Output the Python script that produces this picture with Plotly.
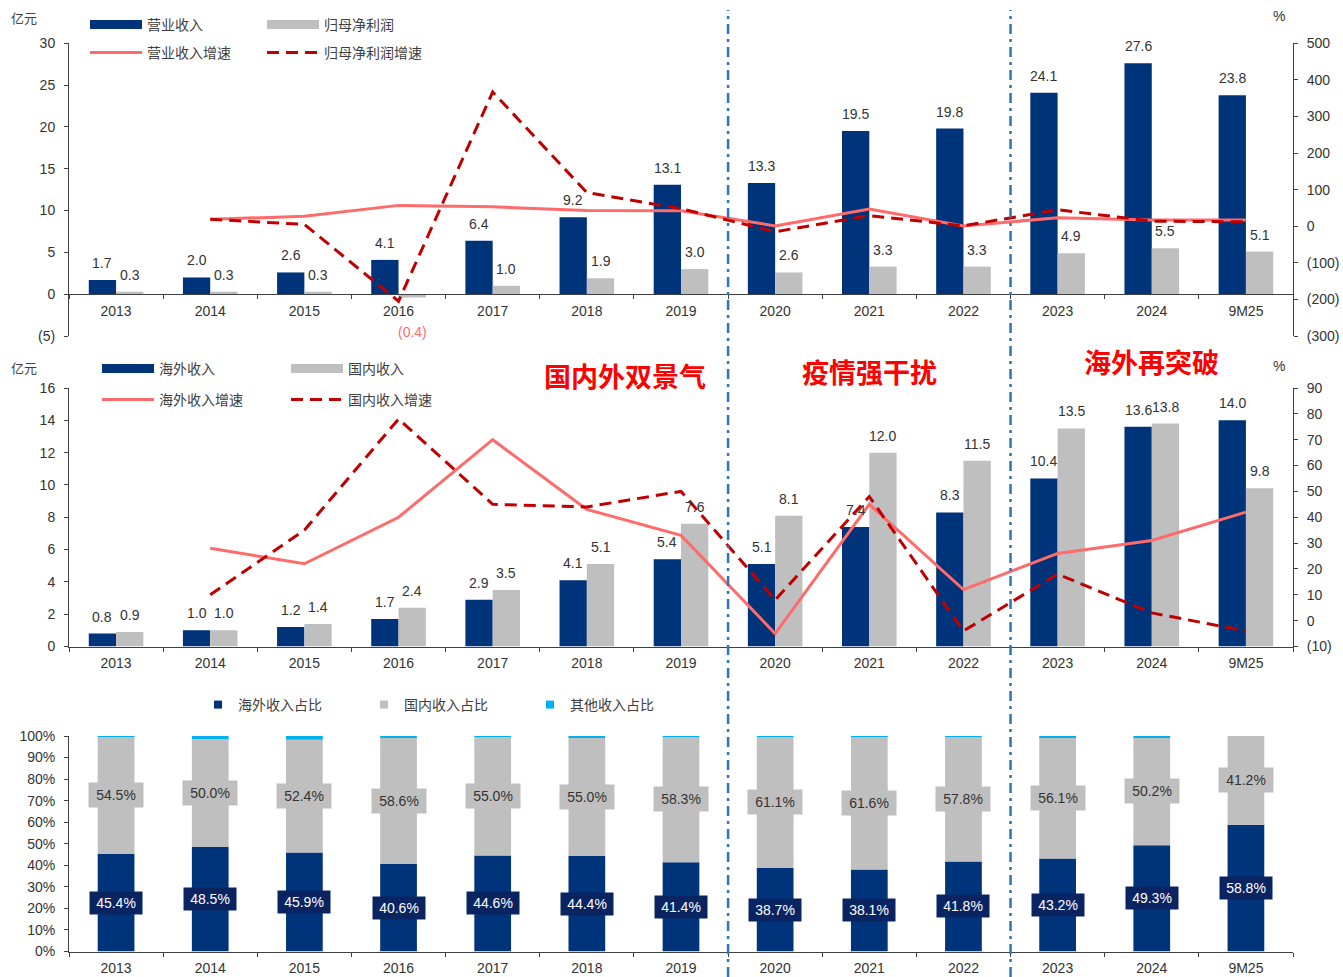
import plotly.graph_objects as go

W, H = 1343, 977

years = ["2013", "2014", "2015", "2016", "2017", "2018", "2019",
         "2020", "2021", "2022", "2023", "2024", "9M25"]

# 营业收入 / 归母净利润 (亿元) and growth (%)
revenue = [1.7, 2.0, 2.6, 4.1, 6.4, 9.2, 13.1, 13.3, 19.5, 19.8, 24.1, 27.6, 23.8]
net_profit = [0.3, 0.3, 0.3, -0.4, 1.0, 1.9, 3.0, 2.6, 3.3, 3.3, 4.9, 5.5, 5.1]
revenue_growth = [None, 19, 27, 57, 53, 43, 42, 1, 47, 1, 23, 17, 17]
profit_growth = [None, 19, 5, -205, 367, 92, 48, -15, 29, 1, 45, 14, 12]

# 海外 / 国内收入 (亿元) and growth (%)
overseas = [0.8, 1.0, 1.2, 1.7, 2.9, 4.1, 5.4, 5.1, 7.4, 8.3, 10.4, 13.6, 14.0]
domestic = [0.9, 1.0, 1.4, 2.4, 3.5, 5.1, 7.6, 8.1, 12.0, 11.5, 13.5, 13.8, 9.8]
overseas_growth = [None, 28, 22, 40, 70, 43, 33, -5, 45, 12, 26, 31, 42]
domestic_growth = [None, 10, 35, 78, 45, 44, 50, 8, 48, -4, 18, 3, -4]

# revenue mix (%)
overseas_share = [45.4, 48.5, 45.9, 40.6, 44.6, 44.4, 41.4, 38.7, 38.1, 41.8, 43.2, 49.3, 58.8]
domestic_share = [54.5, 50.0, 52.4, 58.6, 55.0, 55.0, 58.3, 61.1, 61.6, 57.8, 56.1, 50.2, 41.2]
other_share = [0.1, 1.5, 1.7, 0.8, 0.4, 0.6, 0.3, 0.2, 0.3, 0.4, 0.7, 0.5, 0.0]

top_left_ticks = [-5, 0, 5, 10, 15, 20, 25, 30]
top_right_ticks = [-300, -200, -100, 0, 100, 200, 300, 400, 500]
mid_left_ticks = [0, 2, 4, 6, 8, 10, 12, 14, 16]
mid_right_ticks = [-10, 0, 10, 20, 30, 40, 50, 60, 70, 80, 90]
share_ticks = [0, 10, 20, 30, 40, 50, 60, 70, 80, 90, 100]

phase_labels = ["国内外双景气", "疫情强干扰", "海外再突破"]
phase_pos = [5.4, 8.0, 11.0]
phase_y_px = [375, 371, 362]
phase_breaks = [6.5, 9.5]

NAVY = "#00347A"
GREY = "#BFBFBF"
SALMON = "#FF6B6B"
DARKRED = "#C00000"
CYAN = "#00B0F0"
SEP = "#2E75B6"
TXT = "#333333"
AX = "#404040"
NUM_FONT = "Liberation Sans, Arial, sans-serif"
CJK_FONT = "Noto Sans CJK SC, sans-serif"

BARGAP = 0.42
HALF = (1 - BARGAP) / 4  # centre offset of each bar inside a two-bar group


def px_x(p):
    return p / W


def px_y(p):
    return 1 - p / H


def paren(v, fmt="{:.0f}"):
    return "(" + fmt.format(-v) + ")" if v < 0 else fmt.format(v)


xdom = [px_x(69), px_x(1293)]
top_dom = [px_y(336), px_y(43.3)]
mid_dom = [px_y(646.5), px_y(388)]
bot_dom = [px_y(951.5), px_y(736)]
top_zero = top_dom[0] + (top_dom[1] - top_dom[0]) * 5 / 35

fig = go.Figure()

# ---------- top: revenue & profit ----------
fig.add_trace(go.Bar(x=years, y=revenue, marker_color=NAVY, xaxis="x", yaxis="y",
                     showlegend=False))
fig.add_trace(go.Bar(x=years, y=net_profit, marker_color=GREY, xaxis="x", yaxis="y",
                     showlegend=False))
fig.add_trace(go.Scatter(
    x=years, y=revenue_growth, mode="lines", line=dict(color=SALMON, width=3),
    xaxis="x", yaxis="y2", name="营业收入增速", legend="legend2"))
fig.add_trace(go.Scatter(
    x=years, y=profit_growth, mode="lines",
    line=dict(color=DARKRED, width=3, dash="12px,7px"),
    xaxis="x", yaxis="y2", name="归母净利润增速", legend="legend2"))
fig.add_trace(go.Scatter(x=[None], y=[None], mode="lines", line=dict(color=NAVY, width=9),
                         xaxis="x", yaxis="y", name="营业收入", legend="legend"))
fig.add_trace(go.Scatter(x=[None], y=[None], mode="lines", line=dict(color=GREY, width=9),
                         xaxis="x", yaxis="y", name="归母净利润", legend="legend"))

# ---------- middle: overseas vs domestic ----------
fig.add_trace(go.Bar(x=years, y=overseas, marker_color=NAVY, xaxis="x2", yaxis="y3",
                     showlegend=False))
fig.add_trace(go.Bar(x=years, y=domestic, marker_color=GREY, xaxis="x2", yaxis="y3",
                     showlegend=False))
fig.add_trace(go.Scatter(
    x=years, y=overseas_growth, mode="lines", line=dict(color=SALMON, width=3),
    xaxis="x2", yaxis="y4", name="海外收入增速", legend="legend4"))
fig.add_trace(go.Scatter(
    x=years, y=domestic_growth, mode="lines",
    line=dict(color=DARKRED, width=3, dash="12px,7px"),
    xaxis="x2", yaxis="y4", name="国内收入增速", legend="legend4"))
fig.add_trace(go.Scatter(x=[None], y=[None], mode="lines", line=dict(color=NAVY, width=9),
                         xaxis="x2", yaxis="y3", name="海外收入", legend="legend3"))
fig.add_trace(go.Scatter(x=[None], y=[None], mode="lines", line=dict(color=GREY, width=9),
                         xaxis="x2", yaxis="y3", name="国内收入", legend="legend3"))

# ---------- bottom: revenue mix (stacked via base) ----------
domestic_base = overseas_share
other_base = [a + b for a, b in zip(overseas_share, domestic_share)]
for vals, base, col in [(overseas_share, None, NAVY),
                        (domestic_share, domestic_base, GREY),
                        (other_share, other_base, CYAN)]:
    fig.add_trace(go.Bar(x=years, y=vals, base=base, marker_color=col,
                         width=0.39, offset=-0.195, xaxis="x3", yaxis="y5",
                         showlegend=False))
for name, col in [("海外收入占比", NAVY), ("国内收入占比", GREY), ("其他收入占比", CYAN)]:
    fig.add_trace(go.Scatter(x=[None], y=[None], mode="markers",
                             marker=dict(symbol="square", size=8, color=col),
                             xaxis="x3", yaxis="y5", name=name, legend="legend5"))

annotations = []
label_font = dict(family=NUM_FONT, size=14, color=TXT)


def bar_labels(vals, dx, xref, yref):
    for i, v in enumerate(vals):
        neg = v < 0
        annotations.append(dict(
            x=i + dx, y=v, xref=xref, yref=yref, text=paren(v, "{:.1f}"),
            showarrow=False, yanchor="top" if neg else "bottom",
            yshift=-24 if neg else 7,
            font=dict(label_font, color=SALMON if neg else TXT)))


bar_labels(revenue, -HALF, "x", "y")
bar_labels(net_profit, HALF, "x", "y")
bar_labels(overseas, -HALF, "x2", "y3")
bar_labels(domestic, HALF, "x2", "y3")

for i in range(len(years)):
    annotations.append(dict(
        x=i, y=overseas_share[i] / 2, xref="x3", yref="y5",
        text=f"{overseas_share[i]:.1f}%", showarrow=False, bgcolor="#0A2462",
        font=dict(family=NUM_FONT, size=14, color="white"), width=50, height=20))
    annotations.append(dict(
        x=i, y=overseas_share[i] + domestic_share[i] / 2, xref="x3", yref="y5",
        text=f"{domestic_share[i]:.1f}%", showarrow=False, bgcolor=GREY,
        font=dict(family=NUM_FONT, size=14, color=TXT), width=52, height=22))

for txt, pos, ypx in zip(phase_labels, phase_pos, phase_y_px):
    annotations.append(dict(
        x=pos, y=px_y(ypx), xref="x2", yref="paper", yanchor="middle",
        text=f"<b>{txt}</b>", showarrow=False,
        font=dict(family=CJK_FONT, size=27, color="#FF0000")))

unit_font = dict(family=CJK_FONT, size=13, color=AX)
pct_font = dict(family=NUM_FONT, size=14, color=TXT)
for ypx in (17, 367):
    annotations.append(dict(x=px_x(9), y=px_y(ypx), xref="paper", yref="paper",
                            text="亿元", showarrow=False, xanchor="left",
                            yanchor="middle", font=unit_font))
for ypx in (16, 366):
    annotations.append(dict(x=px_x(1279), y=px_y(ypx), xref="paper", yref="paper",
                            text="%", showarrow=False, xanchor="center",
                            yanchor="middle", font=pct_font))

shapes = [dict(type="line", xref="x", yref="paper", x0=b, x1=b, y0=0, y1=px_y(10),
               line=dict(color=SEP, width=2.5, dash="10px,5px,3px,5px"))
          for b in phase_breaks]

tick_font = dict(family=NUM_FONT, size=14, color=TXT)
xcommon = dict(type="category", domain=xdom, showline=True, linecolor=AX,
               ticks="outside", tickson="boundaries", ticklen=4, tickcolor=AX,
               tickfont=tick_font, showgrid=False, zeroline=False,
               range=[-0.5, 12.5], automargin=False, ticklabelstandoff=4)
ycommon = dict(showline=True, linecolor=AX, ticks="outside", ticklen=4,
               tickcolor=AX, tickfont=tick_font, showgrid=False, zeroline=False,
               automargin=False, ticklabelstandoff=6)

legend_font = dict(family=CJK_FONT, size=14, color=AX)


def leg(x, y, itemwidth, entrywidth):
    return dict(x=px_x(x), y=px_y(y), xanchor="left", yanchor="middle",
                orientation="h", itemwidth=itemwidth, entrywidth=entrywidth,
                font=legend_font, bgcolor="rgba(0,0,0,0)", traceorder="normal")


fig.update_layout(
    template="none",
    width=W, height=H, margin=dict(l=0, r=0, t=0, b=0, autoexpand=False),
    paper_bgcolor="white", plot_bgcolor="white",
    barmode="group", bargap=BARGAP, bargroupgap=0,
    xaxis=dict(xcommon, anchor="free", position=top_zero),
    yaxis=dict(ycommon, domain=top_dom, anchor="x", range=[-5, 30],
               tickvals=top_left_ticks, ticktext=[paren(v) for v in top_left_ticks]),
    yaxis2=dict(ycommon, overlaying="y", side="right", anchor="x", range=[-300, 500],
                tickvals=top_right_ticks, ticktext=[paren(v) for v in top_right_ticks]),
    xaxis2=dict(xcommon, anchor="y3"),
    yaxis3=dict(ycommon, domain=mid_dom, anchor="x2", range=[0, 16],
                tickvals=mid_left_ticks),
    yaxis4=dict(ycommon, overlaying="y3", side="right", anchor="x2", range=[-10, 90],
                tickvals=mid_right_ticks, ticktext=[paren(v) for v in mid_right_ticks]),
    xaxis3=dict(xcommon, anchor="y5"),
    yaxis5=dict(ycommon, domain=bot_dom, anchor="x3", range=[0, 100],
                tickvals=share_ticks, ticktext=[f"{v}%" for v in share_ticks]),
    legend=leg(85, 25, 52, 110),
    legend2=leg(85, 53, 52, 110),
    legend3=leg(97, 369, 52, 122),
    legend4=leg(97, 400, 52, 122),
    legend5=leg(198, 705, 30, 121),
    annotations=annotations,
    shapes=shapes,
)

fig.write_html("out.html")
